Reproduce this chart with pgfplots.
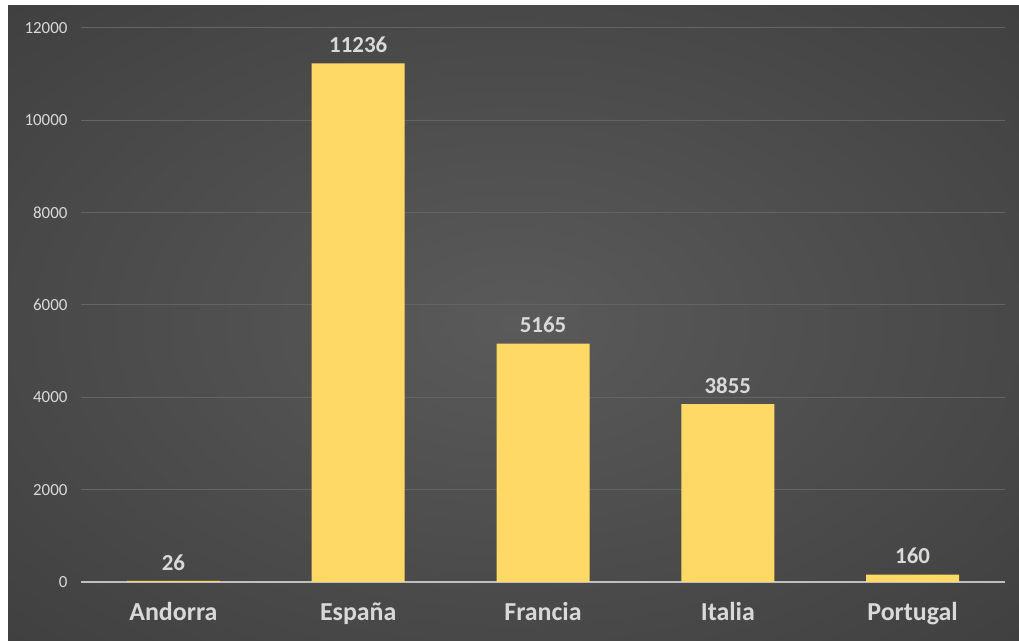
\documentclass[border=0pt]{standalone}
\usepackage{pgfplots}
\pgfplotsset{compat=1.18}
\usepackage{fontspec}
\setmainfont{Carlito}
\definecolor{bgin}{HTML}{5A5A5A}
\definecolor{bgout}{HTML}{252525}
\definecolor{baryellow}{HTML}{FFD966}
\definecolor{txt}{HTML}{D9D9D9}
\definecolor{gridc}{HTML}{646464}
\definecolor{axc}{HTML}{BFBFBF}
\pgfdeclareradialshading{bgshade}{\pgfpoint{0bp}{0bp}}{color(0bp)=(bgin); color(72bp)=(bgout)}
\begin{document}
\begin{tikzpicture}[x=1bp,y=1bp]
\useasboundingbox (0,0) rectangle (1019,641);
\fill[white] (0,0) rectangle (1019,641);
\shade[shading=bgshade] (8,0) rectangle (1019,635);
\begin{axis}[
  at={(81bp,59bp)}, anchor=south west,
  scale only axis, width=924bp, height=554bp,
  xmin=-0.5, xmax=4.5, ymin=0, ymax=12000,
  ybar, bar width=93bp,
  xtick={0,1,2,3,4},
  xticklabels={Andorra,España,Francia,Italia,Portugal},
  ytick={0,2000,4000,6000,8000,10000,12000},
  major tick length=0pt,
  axis x line*=bottom, axis y line*=left,
  y axis line style={draw=none},
  x axis line style={draw=axc, line width=1.5bp},
  ymajorgrids, grid style={draw=gridc, line width=1bp},
  /pgf/number format/assume math mode=true,
  /pgf/number format/1000 sep={},
  scaled y ticks=false,
  xticklabel style={font=\bfseries\fontsize{26}{26}\selectfont, text=txt, yshift=-17bp},
  yticklabel style={font=\fontsize{17}{17}\selectfont, text=txt, anchor=east, xshift=-10bp},
  nodes near coords,
  nodes near coords style={font=\bfseries\fontsize{23}{23}\selectfont, text=txt, yshift=7bp},
  clip=false,
]
\addplot[fill=baryellow, draw=none] coordinates {(0,26) (1,11236) (2,5165) (3,3855) (4,160)};
\end{axis}
\end{tikzpicture}
\end{document}
